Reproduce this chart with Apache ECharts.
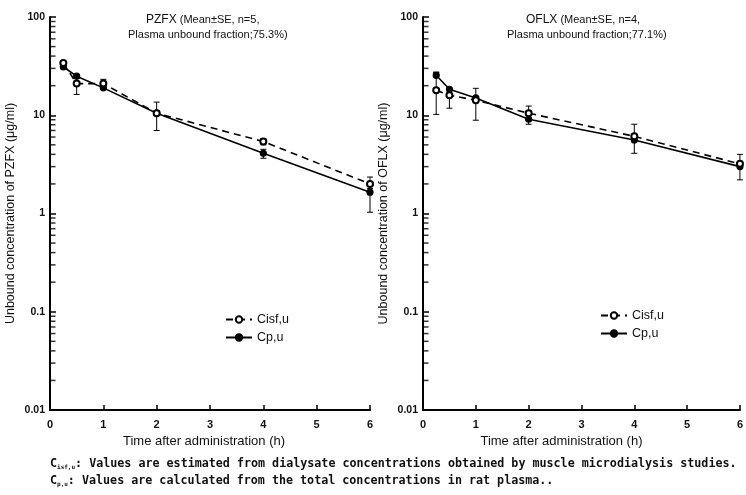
<!DOCTYPE html>
<html><head><meta charset="utf-8">
<script src="https://cdn.jsdelivr.net/npm/echarts@6/dist/echarts.min.js"></script>
<style>html,body{margin:0;padding:0;background:#fff}#c{width:746px;height:495px}</style>
</head><body><div id="c"></div>
<script>
// ---- data ----
const times = [0.25, 0.5, 1, 2, 4, 6];
const xTicks = [0, 1, 2, 3, 4, 5, 6];
const yTicks = [0.01, 0.1, 1, 10, 100];
const minorTicks = [0.02,0.03,0.04,0.05,0.06,0.07,0.08,0.09,0.2,0.3,0.4,0.5,0.6,0.7,0.8,0.9,2,3,4,5,6,7,8,9,20,30,40,50,60,70,80,90];

const pzfxCisf = [34, 21, 21, 10.5, 5.4, 2.0];
const pzfxCisfLo = [null, 16.3, 19.5, 7.0, 5.0, 1.8];
const pzfxCisfHi = [null, 23.8, 23.2, 13.6, 5.8, 2.35];
const pzfxCp = [31, 25, 19, 10.5, 4.1, 1.65];
const pzfxCpLo = [null, null, null, null, 3.65, 1.03];
const pzfxCpHi = [null, null, null, null, 4.5, 2.0];

const oflxCisf = [18, 16, 14.2, 10.5, 6.1, 3.2];
const oflxCisfLo = [10.2, 11.8, 8.9, 8.1, 4.1, 2.2];
const oflxCisfHi = [27.4, 18.4, 18.8, 12.4, 8.1, 4.0];
const oflxCp = [25.5, 18.4, 15, 9.1, 5.6, 3.0];
const oflxCpLo = [null, null, null, null, null, null];
const oflxCpHi = [27.4, null, null, null, null, null];

const seriesNames = ['Cisf,u', 'Cp,u'];
const titlesL = ['PZFX', ' (Mean\u00B1SE, n=5,', 'Plasma unbound fraction;75.3%)'];
const titlesR = ['OFLX', ' (Mean\u00B1SE, n=4,', 'Plasma unbound fraction;77.1%)'];
const yNames = ['Unbound concentration of PZFX (\u03BCg/ml)', 'Unbound concentration of OFLX (\u03BCg/ml)'];
const xName = 'Time after administration (h)';
const notes = [
  ['isf,u', ': Values are estimated from dialysate concentrations obtained by muscle microdialysis studies.'],
  ['p,u', ': Values are calculated from the total concentrations in rat plasma..']
];

// ---- build ----
const FONT = 'Liberation Sans, Arial, sans-serif';
function pairs(vals){ return times.map((t,i)=>[t, vals[i]]); }
function errs(lo, hi, vals){
  const out=[];
  times.forEach((t,i)=>{ if(lo[i]!=null||hi[i]!=null) out.push([t, lo[i]!=null?lo[i]:vals[i], hi[i]!=null?hi[i]:vals[i]]); });
  return out;
}
function errSeries(idx, data){
  return {type:'custom', xAxisIndex:idx, yAxisIndex:idx, data, silent:true, z:3,
    encode:{x:0,y:[1,2]},
    renderItem(params, api){
      const t=api.value(0), lo=api.value(1), hi=api.value(2);
      const a=api.coord([t,hi]), b=api.coord([t,lo]);
      const st={stroke:'#000', lineWidth:1};
      const ch=[{type:'line',shape:{x1:a[0],y1:a[1],x2:b[0],y2:b[1]},style:st}];
      if(hi!==lo){
        ch.push({type:'line',shape:{x1:a[0]-3,y1:a[1],x2:a[0]+3,y2:a[1]},style:st});
        ch.push({type:'line',shape:{x1:b[0]-3,y1:b[1],x2:b[0]+3,y2:b[1]},style:st});
      }
      return {type:'group',children:ch};
    }};
}
function minorSeries(idx){
  return {type:'scatter', xAxisIndex:idx, yAxisIndex:idx, data:minorTicks.map(v=>[0,v]), silent:true,
    symbol:'rect', symbolSize:[5,1.5], symbolOffset:[3,0], itemStyle:{color:'#000'}, clip:false, z:6};
}
function lineSeries(idx, name, vals, filled){
  return {type:'line', name, xAxisIndex:idx, yAxisIndex:idx, data:pairs(vals),
    symbol: filled?'circle':'emptyCircle', symbolSize:6,
    itemStyle:{color:'#000', borderColor:'#000', borderWidth:1.2},
    lineStyle:{color:'#000', width:1.6, type: filled?'solid':[7,5]},
    z: filled?4:5, animation:false};
}
const grids=[{left:50, top:17, width:320, height:393},{left:423, top:17, width:323, height:393}];
const xAxes=grids.map((g,i)=>({type:'value', gridIndex:i, min:0, max:6, interval:1,
  name:xName, nameLocation:'middle', nameGap:22,
  nameTextStyle:{fontFamily:FONT, fontSize:13, color:'#111', padding: i===0?[0,12,0,0]:[0,40,0,0]},
  axisLine:{lineStyle:{color:'#000', width:2}},
  axisTick:{inside:true, length:5, lineStyle:{color:'#000', width:1.5}},
  axisLabel:{fontFamily:FONT, fontSize:11, color:'#111', margin:9, fontWeight:'bold'},
  splitLine:{show:false}}));
const yAxes=grids.map((g,i)=>({type:'log', logBase:10, gridIndex:i, min:0.01, max:100, interval:1,
  name:yNames[i], nameLocation:'middle', nameGap:33,
  nameTextStyle:{fontFamily:FONT, fontSize:12.5, color:'#111'},
  axisLine:{lineStyle:{color:'#000', width:2}},
  axisTick:{inside:true, length:6, lineStyle:{color:'#000', width:1.5}},
  axisLabel:{fontFamily:FONT, fontSize:10.5, color:'#111', margin:5, fontWeight:'bold',
    formatter:v=>String(+v.toPrecision(3))},
  splitLine:{show:false}, minorTick:{show:false}}));

const series=[
  minorSeries(0), minorSeries(1),
  errSeries(0, errs(pzfxCisfLo,pzfxCisfHi,pzfxCisf)), errSeries(0, errs(pzfxCpLo,pzfxCpHi,pzfxCp)),
  errSeries(1, errs(oflxCisfLo,oflxCisfHi,oflxCisf)), errSeries(1, errs(oflxCpLo,oflxCpHi,oflxCp)),
  lineSeries(0, seriesNames[0], pzfxCisf, false), lineSeries(0, seriesNames[1], pzfxCp, true),
  lineSeries(1, seriesNames[0], oflxCisf, false), lineSeries(1, seriesNames[1], oflxCp, true)
];
const legendBase={orient:'vertical', itemWidth:26, itemHeight:8, itemGap:5, data:seriesNames,
  textStyle:{fontFamily:FONT, fontSize:12.5, color:'#111'}, selectedMode:false};

function titleText(x1,x2,y,lines){
  return [
    {type:'text', left:x1, top:y, style:{text:'{a|'+lines[0]+'}{b|'+lines[1]+'}',
      rich:{a:{font:'12px '+FONT, fill:'#111'}, b:{font:'11px '+FONT, fill:'#111'}}}},
    {type:'text', left:x2, top:y+15, style:{text:lines[2], font:'11px '+FONT, fill:'#111'}}
  ];
}
function noteText(y, n){
  return {type:'text', left:50, top:y, style:{
    text:'{c|C}{s|'+n[0]+'}{t|'+n[1]+'}',
    rich:{c:{font:'bold 11.7px DejaVu Sans Mono', fill:'#111'},
          s:{font:'bold 6px DejaVu Sans Mono', fill:'#111', verticalAlign:'bottom', padding:[6,0,0,0]},
          t:{font:'bold 11.7px DejaVu Sans Mono', fill:'#111'}}}};
}

const chart=echarts.init(document.getElementById('c'), null, {renderer:'canvas'});
chart.setOption({
  animation:false, backgroundColor:'#fff',
  grid:grids, xAxis:xAxes, yAxis:yAxes, series,
  legend:[Object.assign({left:220, top:308}, legendBase), Object.assign({left:595, top:304}, legendBase)],
  graphic:[].concat(titleText(146,128,14,titlesL), titleText(526,507,14,titlesR),
    [noteText(458, notes[0]), noteText(475, notes[1])])
});
</script></body></html>
